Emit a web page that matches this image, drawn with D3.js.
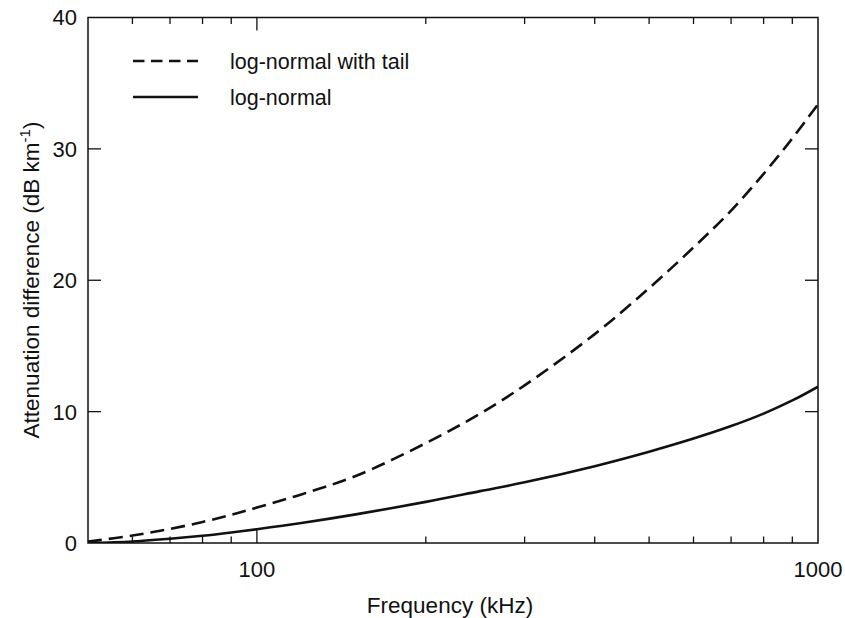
<!DOCTYPE html>
<html>
<head>
<meta charset="utf-8">
<script src="https://cdn.jsdelivr.net/npm/d3@7"></script>
<style>
  html, body { margin: 0; padding: 0; background: #fff; }
  svg { display: block; }
  text { font-family: "Liberation Sans", Arial, Helvetica, sans-serif; fill: #111; }
</style>
</head>
<body>
<svg id="chart" width="845" height="618"></svg>
<script>
// Frequencies (kHz) at which both curves are sampled
const frequency = [50, 60, 70, 80, 90, 100, 120, 150, 200, 250, 300, 400, 500, 600, 700, 800, 900, 1000];
// Attenuation difference (dB km^-1), log-normal distribution with tail
const withTail = [0.1, 0.57, 1.07, 1.6, 2.14, 2.7, 3.7, 5.1, 7.6, 9.85, 12.0, 15.9, 19.4, 22.5, 25.3, 28.1, 30.8, 33.4];
// Attenuation difference (dB km^-1), plain log-normal distribution
const logNormal = [0.0, 0.12, 0.32, 0.55, 0.8, 1.05, 1.52, 2.18, 3.13, 3.95, 4.62, 5.85, 6.95, 7.95, 8.9, 9.85, 10.85, 11.9];

const yTicks = [0, 10, 20, 30, 40];
const xMajor = [100, 1000];
const xMinor = [60, 70, 80, 90, 200, 300, 400, 500, 600, 700, 800, 900];

const legendItems = [
  { label: "log-normal with tail", values: withTail, dash: "14,7" },
  { label: "log-normal", values: logNormal, dash: null }
];

const svg = d3.select("#chart");
const m = { left: 88, right: 818, top: 17.5, bottom: 543 };

const x = d3.scaleLog().domain([50, 1000]).range([m.left, m.right]);
const y = d3.scaleLinear().domain([0, 40]).range([m.bottom, m.top]);

const tickFont = 22, titleFont = 22.5, legendFont = 21.5;
const majorLen = 13, minorLen = 6.5;

// Plot frame
svg.append("rect")
  .attr("x", m.left).attr("y", m.top)
  .attr("width", m.right - m.left).attr("height", m.bottom - m.top)
  .attr("fill", "none").attr("stroke", "#111").attr("stroke-width", 1.5);

const ticks = svg.append("g").attr("stroke", "#111").attr("stroke-width", 1.3);

// Inward ticks on bottom and top edges
xMajor.concat(xMinor).forEach(f => {
  const len = xMajor.includes(f) ? majorLen : minorLen;
  const px = x(f);
  if (f < 1000) {
    ticks.append("line").attr("x1", px).attr("x2", px).attr("y1", m.bottom).attr("y2", m.bottom - len);
    ticks.append("line").attr("x1", px).attr("x2", px).attr("y1", m.top).attr("y2", m.top + len);
  }
});

// Inward ticks on left and right edges
yTicks.filter(v => v > 0 && v < 40).forEach(v => {
  const py = y(v);
  ticks.append("line").attr("x1", m.left).attr("x2", m.left + majorLen).attr("y1", py).attr("y2", py);
  ticks.append("line").attr("x1", m.right).attr("x2", m.right - majorLen).attr("y1", py).attr("y2", py);
});

// Y tick labels
svg.append("g").selectAll("text").data(yTicks).join("text")
  .attr("x", m.left - 11).attr("y", d => y(d))
  .attr("dy", "0.36em").attr("text-anchor", "end")
  .attr("font-size", tickFont).text(d => d);

// X tick labels
svg.append("g").selectAll("text").data(xMajor).join("text")
  .attr("x", d => x(d)).attr("y", 577)
  .attr("text-anchor", "middle")
  .attr("font-size", tickFont).text(d => d);

// Axis titles
svg.append("text")
  .attr("x", 450).attr("y", 612.5)
  .attr("text-anchor", "middle").attr("font-size", titleFont)
  .text("Frequency (kHz)");

const yTitle = svg.append("text")
  .attr("transform", "translate(38.5,280) rotate(-90)")
  .attr("text-anchor", "middle").attr("font-size", titleFont);
yTitle.append("tspan").text("Attenuation difference (dB km");
yTitle.append("tspan").attr("dy", -9).attr("font-size", 15).text("-1");
yTitle.append("tspan").attr("dy", 9).text(")");

// Curves
const line = d3.line()
  .x((d, i) => x(frequency[i]))
  .y(d => y(d))
  .curve(d3.curveCatmullRom.alpha(0.5));

svg.append("defs").append("clipPath").attr("id", "plotClip")
  .append("rect").attr("x", m.left).attr("y", m.top)
  .attr("width", m.right - m.left).attr("height", m.bottom - m.top);

legendItems.forEach(item => {
  svg.append("path")
    .datum(item.values)
    .attr("d", line)
    .attr("clip-path", "url(#plotClip)")
    .attr("fill", "none").attr("stroke", "#111").attr("stroke-width", 2.6)
    .attr("stroke-dasharray", item.dash);
});

// Legend
const legend = svg.append("g");
legendItems.forEach((item, i) => {
  const ly = 61 + i * 36;
  legend.append("line")
    .attr("x1", 133).attr("x2", 198).attr("y1", ly).attr("y2", ly)
    .attr("stroke", "#111").attr("stroke-width", 2.6)
    .attr("stroke-dasharray", item.dash ? "11.5,6.5" : null);
  legend.append("text")
    .attr("x", 230).attr("y", ly).attr("dy", "0.36em")
    .attr("font-size", legendFont).text(item.label);
});
</script>
</body>
</html>
